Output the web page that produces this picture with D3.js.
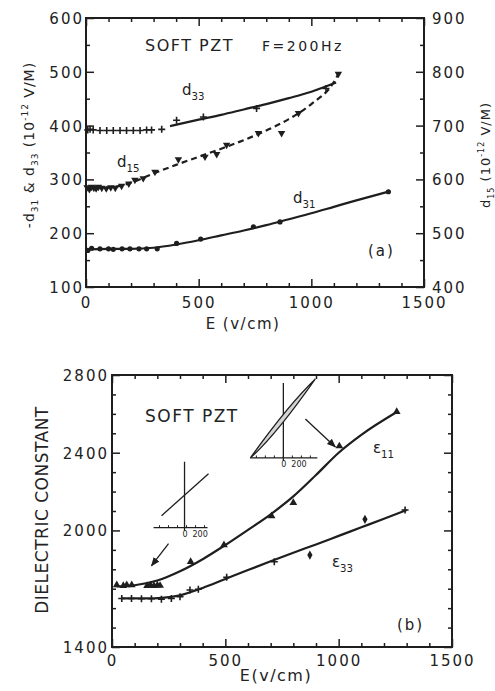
<!DOCTYPE html>
<html>
<head>
<meta charset="utf-8">
<script src="https://cdn.jsdelivr.net/npm/d3@7"></script>
<style>
  body { margin: 0; background: #fff; }
  svg text { font-family: "DejaVu Sans", sans-serif; fill: #222; }
</style>
</head>
<body>
<div id="chart"></div>
<script>
// ---- panel (a): piezo coefficients vs E field, soft PZT, F = 200 Hz ----
const d33Field = [8, 18, 32, 62, 92, 121, 151, 180, 210, 240, 269, 291, 336, 402, 521, 757, 1065];
const d33Vals  = [392, 393, 392, 391, 391, 391, 391, 391, 391, 391, 392, 392, 393, 410, 416, 432, 469];
const d33FitE  = [373, 500, 600, 700, 800, 900, 1000, 1110];
const d33FitV  = [399, 411, 420, 430, 440, 451, 463, 480];

// d15 read on the right axis
const d15Field = [5, 15, 25, 35, 45, 55, 70, 90, 110, 130, 158, 190, 217, 254, 306, 410, 528, 580, 624, 765, 868, 943, 1120];
const d15Vals  = [585, 582, 586, 584, 583, 586, 584, 583, 585, 584, 588, 592, 599, 602, 614, 637, 642, 647, 664, 686, 686, 723, 796];
const d15FitE  = [0, 100, 150, 200, 300, 400, 500, 600, 700, 800, 900, 1000, 1100, 1125];
const d15FitV  = [585, 585, 588, 594, 611, 627, 642, 657, 673, 691, 712, 740, 781, 800];

const d31Field = [8, 25, 62, 100, 121, 160, 195, 235, 269, 316, 402, 509, 743, 861, 1342];
const d31Vals  = [168, 172, 171, 171, 170, 171, 171, 171, 171, 171, 181, 189, 212, 221, 277];
const d31FitE  = [0, 100, 200, 300, 400, 500, 600, 700, 800, 900, 1000, 1100, 1200, 1350];
const d31FitV  = [170, 171, 171, 173, 179, 187, 196, 205, 215, 226, 237, 249, 261, 278];

const aXTicks      = [0, 500, 1000, 1500];
const aLeftTicks   = [100, 200, 300, 400, 500, 600];
const aRightTicks  = [400, 500, 600, 700, 800, 900];

// ---- panel (b): dielectric constant vs E field ----
const eps11Field = [21, 50, 65, 87, 155, 170, 185, 200, 212, 347, 494, 704, 800, 1003, 1256];
const eps11Vals  = [1719, 1715, 1719, 1719, 1715, 1718, 1715, 1718, 1716, 1839, 1925, 2074, 2143, 2434, 2611];
const eps11FitE  = [20, 100, 200, 300, 400, 500, 600, 700, 800, 900, 1000, 1100, 1260];
const eps11FitV  = [1712, 1718, 1742, 1790, 1852, 1925, 2003, 2083, 2175, 2285, 2400, 2492, 2612];

const eps33Field = [43, 86, 130, 174, 218, 262, 300, 344, 381, 506, 716, 1293];
const eps33Vals  = [1650, 1650, 1648, 1648, 1646, 1650, 1659, 1693, 1697, 1759, 1839, 2105];
const eps33DiaField = [873, 1116];
const eps33DiaVals  = [1873, 2057];
const eps33FitE  = [40, 150, 220, 300, 400, 500, 600, 700, 800, 900, 1000, 1100, 1200, 1300];
const eps33FitV  = [1650, 1650, 1653, 1666, 1704, 1750, 1796, 1841, 1885, 1928, 1972, 2016, 2060, 2105];

const bXTicks = [0, 500, 1000, 1500];
const bYTicks = [1400, 2000, 2400, 2800];

const INK = "#1e1e1e";

const svg = d3.select("#chart").append("svg")
    .attr("width", 495).attr("height", 691);

svg.append("defs").append("marker")
    .attr("id", "head").attr("viewBox", "0 0 10 10")
    .attr("refX", 9).attr("refY", 5)
    .attr("markerWidth", 7).attr("markerHeight", 7)
    .attr("orient", "auto")
  .append("path").attr("d", "M0,1L10,5L0,9Z").attr("fill", INK);

// inward ticks on one side: short minor ticks, longer labelled majors
function ticks(g, axisFn, scale, transform, minor, major, pad, labelled) {
    g.append("g").attr("transform", transform)
        .call(axisFn(scale).tickValues(minor).tickSize(-4).tickSizeOuter(0).tickFormat(""))
        .call(s => s.select(".domain").remove());
    const ax = g.append("g").attr("transform", transform)
        .call(axisFn(scale).tickValues(major).tickSize(-8).tickSizeOuter(0)
            .tickPadding(pad).tickFormat(labelled ? d3.format("d") : ""))
        .call(s => s.select(".domain").remove());
    ax.selectAll("text").attr("font-size", 15).style("letter-spacing", "2px")
        .attr("fill", "#222");
    g.selectAll(".tick line").attr("stroke", INK).attr("stroke-width", 1.5);
    return ax;
}

function frame(g, w, h) {
    g.append("rect").attr("width", w).attr("height", h)
        .attr("fill", "none").attr("stroke", INK).attr("stroke-width", 2);
}

const plus = "M-3.5,0H3.5M0,-3.5V3.5";

function fit(g, x, y, es, vs, dash) {
    g.append("path")
        .datum(es.map((e, i) => [e, vs[i]]))
        .attr("fill", "none").attr("stroke", INK).attr("stroke-width", 2.2)
        .attr("stroke-dasharray", dash || null)
        .attr("d", d3.line().x(d => x(d[0])).y(d => y(d[1])).curve(d3.curveMonotoneX));
}

function label(g, x, y, main, sub, size) {
    const t = g.append("text").attr("x", x).attr("y", y).attr("font-size", size);
    t.append("tspan").text(main);
    t.append("tspan").attr("font-size", size * 0.68).attr("dy", size * 0.3).text(sub);
    return t;
}

// =================== panel (a) ===================
{
    const w = 338, h = 269;
    const g = svg.append("g").attr("transform", "translate(86,18)");
    const x = d3.scaleLinear().domain([0, 1500]).range([0, w]);
    const yL = d3.scaleLinear().domain([100, 600]).range([h, 0]);
    const yR = d3.scaleLinear().domain([400, 900]).range([h, 0]);

    const xMinor = d3.range(0, 1501, 100).filter(v => !aXTicks.includes(v));
    ticks(g, d3.axisBottom, x, `translate(0,${h})`, xMinor, aXTicks, 10, true);
    ticks(g, d3.axisTop, x, "translate(0,0)", xMinor, aXTicks, 0, false);
    ticks(g, d3.axisLeft, yL, "translate(0,0)", d3.range(150, 600, 100), aLeftTicks, 2, true)
        .selectAll("text").attr("dy", "0.36em");
    ticks(g, d3.axisRight, yR, `translate(${w},0)`, d3.range(450, 900, 100), aRightTicks, 8, true)
        .selectAll("text").attr("dy", "0.36em");
    frame(g, w, h);

    fit(g, x, yL, d33FitE, d33FitV);
    fit(g, x, yR, d15FitE, d15FitV, "6,4");
    fit(g, x, yL, d31FitE, d31FitV);

    g.selectAll(".d33").data(d33Field).join("path")
        .attr("transform", (e, i) => `translate(${x(e)},${yL(d33Vals[i])})`)
        .attr("d", plus).attr("stroke", INK).attr("stroke-width", 1.6);
    g.selectAll(".d15").data(d15Field).join("path")
        .attr("transform", (e, i) => `translate(${x(e)},${yR(d15Vals[i])}) rotate(180)`)
        .attr("d", d3.symbol(d3.symbolTriangle, 24)).attr("fill", INK);
    g.selectAll(".d31").data(d31Field).join("circle")
        .attr("cx", e => x(e)).attr("cy", (e, i) => yL(d31Vals[i]))
        .attr("r", 2.6).attr("fill", INK);

    g.append("text").attr("x", 59).attr("y", 33).attr("font-size", 16)
        .style("letter-spacing", "1.5px").text("SOFT PZT");
    g.append("text").attr("x", 176).attr("y", 33).attr("font-size", 14)
        .style("letter-spacing", "2.5px").text("F=200Hz");
    label(g, 96, 77, "d", "33", 15);
    label(g, 31, 149, "d", "15", 15);
    label(g, 207, 185, "d", "31", 15);
    g.append("text").attr("x", 282).attr("y", 238).attr("font-size", 15)
        .style("letter-spacing", "2px").text("(a)");

    g.append("text").attr("x", 157).attr("y", 311).attr("text-anchor", "middle")
        .attr("font-size", 15).style("letter-spacing", "1.5px").text("E (v/cm)");

    const lt = g.append("text").attr("transform", "translate(-52,127) rotate(-90)")
        .attr("text-anchor", "middle").attr("font-size", 14).style("letter-spacing", "1px");
    lt.append("tspan").text("-d");
    lt.append("tspan").attr("font-size", 9).attr("dy", 4).text("31");
    lt.append("tspan").attr("dy", -4).text(" & d");
    lt.append("tspan").attr("font-size", 9).attr("dy", 4).text("33");
    lt.append("tspan").attr("dy", -4).text(" (10");
    lt.append("tspan").attr("font-size", 9).attr("dy", -6).text("-12");
    lt.append("tspan").attr("dy", 6).text(" V/M)");

    const rt = g.append("text").attr("transform", `translate(${w + 66},137) rotate(-90)`)
        .attr("text-anchor", "middle").attr("font-size", 13).style("letter-spacing", "1px");
    rt.append("tspan").text("d");
    rt.append("tspan").attr("font-size", 8).attr("dy", 4).text("15");
    rt.append("tspan").attr("dy", -4).text(" (10");
    rt.append("tspan").attr("font-size", 8).attr("dy", -6).text("-12");
    rt.append("tspan").attr("dy", 6).text(" V/M)");
}

// =================== panel (b) ===================
{
    const w = 340, h = 272;
    const g = svg.append("g").attr("transform", "translate(112,375)");
    const x = d3.scaleLinear().domain([0, 1500]).range([0, w]);
    const y = d3.scaleLinear().domain([1400, 2800]).range([h, 0]);

    const xMinor = d3.range(0, 1501, 100).filter(v => !bXTicks.includes(v));
    const yMinor = d3.range(1400, 2801, 100).filter(v => !bYTicks.includes(v));
    ticks(g, d3.axisBottom, x, `translate(0,${h})`, xMinor, bXTicks, 8, true);
    ticks(g, d3.axisTop, x, "translate(0,0)", xMinor, bXTicks, 0, false);
    ticks(g, d3.axisLeft, y, "translate(0,0)", yMinor, bYTicks, 3, true)
        .selectAll("text").attr("dy", "0.36em");
    ticks(g, d3.axisRight, y, `translate(${w},0)`, yMinor, bYTicks, 0, false);
    frame(g, w, h);

    fit(g, x, y, eps11FitE, eps11FitV);
    fit(g, x, y, eps33FitE, eps33FitV);

    g.selectAll(".e11").data(eps11Field).join("path")
        .attr("transform", (e, i) => `translate(${x(e)},${y(eps11Vals[i])})`)
        .attr("d", d3.symbol(d3.symbolTriangle, 26)).attr("fill", INK);
    g.selectAll(".e33").data(eps33Field).join("path")
        .attr("transform", (e, i) => `translate(${x(e)},${y(eps33Vals[i])})`)
        .attr("d", plus).attr("stroke", INK).attr("stroke-width", 1.6);
    g.selectAll(".e33d").data(eps33DiaField).join("path")
        .attr("transform", (e, i) => `translate(${x(e)},${y(eps33DiaVals[i])})`)
        .attr("d", d3.symbol(d3.symbolDiamond, 24)).attr("fill", INK);

    g.append("text").attr("x", 33).attr("y", 47).attr("font-size", 17)
        .style("letter-spacing", "1.5px").text("SOFT PZT");
    label(g, 261, 78, "\u03b5", "11", 15);
    label(g, 220, 192, "\u03b5", "33", 15);
    g.append("text").attr("x", 285).attr("y", 255).attr("font-size", 15)
        .style("letter-spacing", "2px").text("(b)");

    g.append("text").attr("x", 164).attr("y", 306).attr("text-anchor", "middle")
        .attr("font-size", 16).style("letter-spacing", "1.5px").text("E(v/cm)");
    g.append("text").attr("transform", "translate(-64,135) rotate(-90)")
        .attr("text-anchor", "middle").attr("font-size", 17)
        .style("letter-spacing", "0.5px").text("DIELECTRIC CONSTANT");

    // small P-E loop sketches; anchored at data coordinates of their origin
    const line = (p, a, b, c, d, sw) => p.append("line")
        .attr("x1", a).attr("y1", b).attr("x2", c).attr("y2", d)
        .attr("stroke", INK).attr("stroke-width", sw || 1.3);

    function insetAxes(p, left, right, top) {
        line(p, 0, top, 0, 3);
        line(p, left, 0, right, 0);
        d3.range(left + 6, right, 9).forEach(t => line(p, t, 0, t, -2.5, 1));
        p.append("text").attr("x", -2).attr("y", 9).attr("font-size", 8).text("0");
        p.append("text").attr("x", 8).attr("y", 9).attr("font-size", 8).text("200");
    }

    const i1 = g.append("g").attr("transform", `translate(${x(320)},${y(2014)})`);
    insetAxes(i1, -31, 23, -66);
    line(i1, -23, -12, 24, -54);
    line(i1, -16, 16, -33, 38).attr("marker-end", "url(#head)");

    const i2 = g.append("g").attr("transform", `translate(${x(756)},${y(2373)})`);
    insetAxes(i2, -33, 34, -75);
    i2.append("path")
        .attr("d", "M-33,0Q-8,-22 32,-79Q4,-52 -33,0Z")
        .attr("fill", "#d4d4d4").attr("stroke", INK).attr("stroke-width", 1.2);
    line(i2, 22, -39, 52, -11).attr("marker-end", "url(#head)");
}
</script>
</body>
</html>
